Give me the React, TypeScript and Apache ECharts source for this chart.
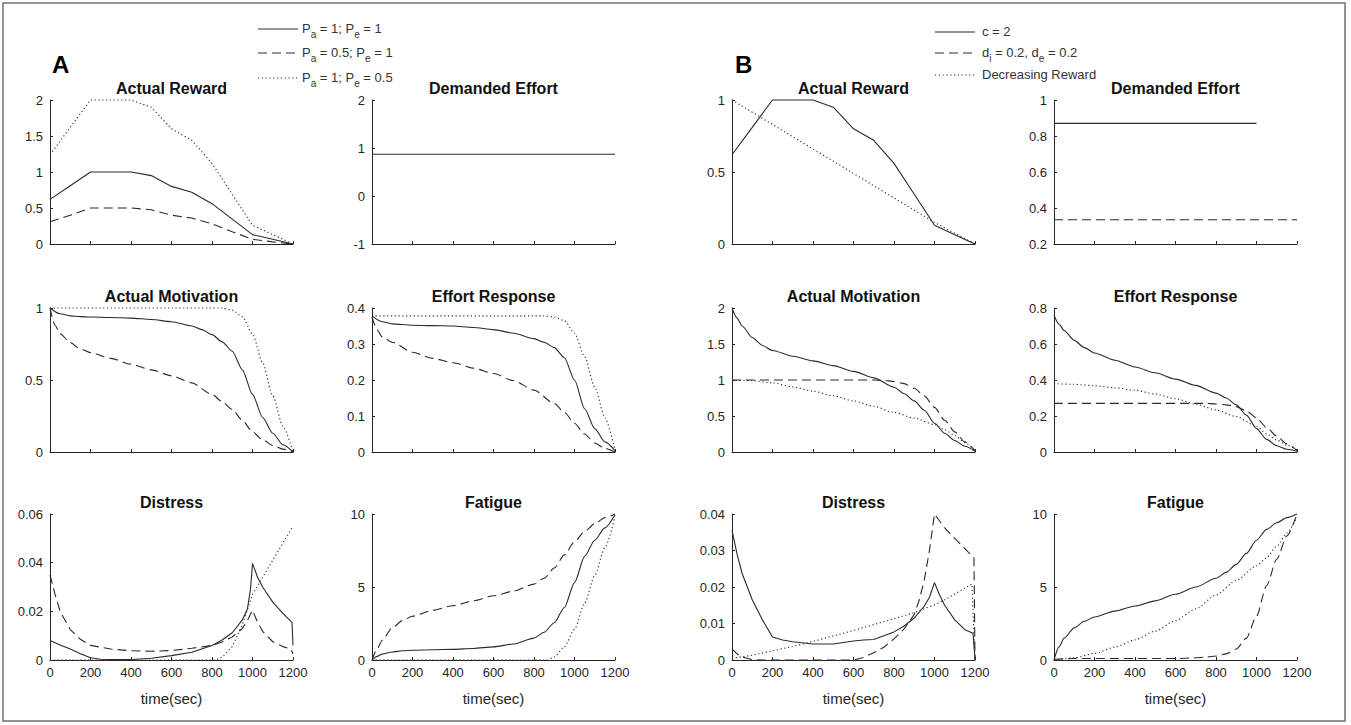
import React, { useEffect, useRef } from 'react';
import * as echarts from 'echarts';

const FONT = '"Liberation Sans", Arial, sans-serif';
const AX = '#262626';
const LINE = '#2a2a2a';

// ---------- data (time in sec, value) ----------
const rewardT = [0, 100, 200, 300, 400, 500, 600, 700, 800, 900, 1000, 1100, 1200];
const rewardA1 = [0.62, 0.81, 1, 1, 1, 0.95, 0.8, 0.72, 0.56, 0.345, 0.13, 0.065, 0];
const rewardA05 = [0.31, 0.4, 0.5, 0.5, 0.5, 0.475, 0.4, 0.36, 0.28, 0.17, 0.065, 0.03, 0];
const rewardA2 = [1.24, 1.62, 2, 2, 2, 1.9, 1.6, 1.44, 1.12, 0.69, 0.26, 0.13, 0];
const rewardBc2 = [0.62, 0.81, 1, 1, 1, 0.95, 0.8, 0.72, 0.56, 0.345, 0.13, 0.065, 0];
const rewardBdecT = [0, 1000, 1200];
const rewardBdec = [1, 0.15, 0];

const demA = [[0, 0.87], [1200, 0.87]];
const demBc2 = [[0, 0.87], [1000, 0.87]];
const demBd = [[0, 0.335], [1200, 0.335]];

const motA1 = [[0, 1], [50, 0.96], [100, 0.945], [150, 0.94], [200, 0.937], [300, 0.934], [400, 0.93], [500, 0.92], [600, 0.905], [700, 0.875], [750, 0.85], [800, 0.815], [850, 0.765], [900, 0.7], [950, 0.57], [1000, 0.4], [1050, 0.24], [1100, 0.13], [1150, 0.05], [1200, 0]];
const motA05 = [[0, 1], [25, 0.88], [50, 0.82], [100, 0.76], [150, 0.715], [200, 0.69], [300, 0.65], [400, 0.61], [500, 0.57], [600, 0.53], [700, 0.48], [800, 0.4], [850, 0.35], [900, 0.295], [950, 0.22], [1000, 0.14], [1050, 0.085], [1100, 0.045], [1150, 0.02], [1200, 0]];
const motA2 = [[0, 1], [850, 1], [900, 0.985], [950, 0.94], [1000, 0.82], [1050, 0.62], [1100, 0.39], [1150, 0.18], [1200, 0]];

const erA1 = [[0, 0.378], [50, 0.362], [100, 0.356], [200, 0.352], [300, 0.351], [400, 0.35], [500, 0.346], [600, 0.34], [700, 0.33], [800, 0.315], [850, 0.305], [900, 0.29], [950, 0.262], [1000, 0.2], [1050, 0.12], [1100, 0.065], [1150, 0.028], [1200, 0.004]];
const erA05 = [[0, 0.375], [25, 0.34], [50, 0.32], [100, 0.305], [200, 0.277], [300, 0.26], [400, 0.248], [500, 0.233], [600, 0.218], [700, 0.198], [800, 0.172], [900, 0.135], [950, 0.11], [1000, 0.08], [1050, 0.05], [1100, 0.025], [1150, 0.01], [1200, 0]];
const erA2 = [[0, 0.378], [850, 0.378], [900, 0.375], [950, 0.365], [1000, 0.33], [1050, 0.265], [1100, 0.18], [1150, 0.095], [1200, 0.005]];

const distA1 = [[0, 0.008], [50, 0.0062], [100, 0.0045], [150, 0.0026], [200, 0.0009], [250, 0.0003], [300, 0.0002], [400, 0.0002], [500, 0.0007], [600, 0.0018], [700, 0.0032], [800, 0.006], [850, 0.0082], [900, 0.0112], [950, 0.0165], [975, 0.021], [990, 0.029], [1000, 0.0397], [1025, 0.034], [1050, 0.03], [1100, 0.0238], [1150, 0.0192], [1195, 0.0155], [1200, 0.006]];
const distA05 = [[0, 0.035], [25, 0.027], [50, 0.02], [100, 0.0125], [150, 0.0085], [200, 0.006], [300, 0.0045], [400, 0.0038], [500, 0.0036], [600, 0.0039], [700, 0.0048], [800, 0.006], [850, 0.0074], [900, 0.0095], [950, 0.013], [975, 0.0162], [1000, 0.0205], [1025, 0.0155], [1050, 0.0118], [1100, 0.0075], [1150, 0.0055], [1190, 0.0045], [1200, 0.0025]];
const distA2 = [[0, 0], [820, 0], [850, 0.0012], [900, 0.0055], [950, 0.0145], [1000, 0.027], [1050, 0.034], [1100, 0.041], [1150, 0.048], [1200, 0.055]];

const fatA1 = [[0, 0], [25, 0.25], [50, 0.4], [100, 0.55], [150, 0.63], [200, 0.67], [300, 0.7], [400, 0.73], [500, 0.79], [600, 0.9], [700, 1.1], [800, 1.5], [850, 1.9], [900, 2.55], [950, 3.6], [1000, 5.3], [1050, 7.1], [1100, 8.2], [1150, 9.05], [1200, 9.95]];
const fatA05 = [[0, 0], [25, 0.75], [50, 1.35], [100, 2.2], [150, 2.7], [200, 3.0], [300, 3.4], [400, 3.72], [500, 4.05], [600, 4.4], [700, 4.72], [800, 5.2], [850, 5.6], [900, 6.3], [950, 7.2], [1000, 8.1], [1050, 8.8], [1100, 9.35], [1150, 9.75], [1200, 10]];
const fatA2 = [[0, 0], [860, 0], [900, 0.2], [950, 0.9], [1000, 2.1], [1050, 3.9], [1100, 5.8], [1150, 7.7], [1200, 9.8]];

const motBc2 = [[0, 2], [25, 1.86], [50, 1.75], [100, 1.59], [150, 1.48], [200, 1.41], [300, 1.33], [400, 1.265], [500, 1.2], [600, 1.12], [700, 1.03], [800, 0.9], [850, 0.81], [900, 0.71], [950, 0.58], [1000, 0.4], [1050, 0.26], [1100, 0.16], [1150, 0.08], [1200, 0.01]];
const motBd = [[0, 1], [700, 1], [750, 0.995], [800, 0.98], [850, 0.95], [900, 0.885], [950, 0.78], [1000, 0.62], [1050, 0.44], [1100, 0.28], [1150, 0.14], [1200, 0.02]];
const motBdec = [[0, 1], [100, 0.99], [200, 0.96], [300, 0.905], [400, 0.845], [500, 0.78], [600, 0.71], [700, 0.635], [800, 0.55], [900, 0.47], [1000, 0.38], [1050, 0.31], [1100, 0.23], [1150, 0.13], [1200, 0.02]];

const erBc2 = [[0, 0.76], [25, 0.71], [50, 0.675], [100, 0.62], [150, 0.58], [200, 0.55], [300, 0.51], [400, 0.472], [500, 0.44], [600, 0.405], [700, 0.37], [800, 0.327], [850, 0.3], [900, 0.262], [950, 0.205], [1000, 0.13], [1050, 0.07], [1100, 0.035], [1150, 0.015], [1200, 0.004]];
const erBd = [[0, 0.27], [750, 0.27], [800, 0.267], [850, 0.262], [900, 0.252], [950, 0.228], [1000, 0.19], [1050, 0.135], [1100, 0.088], [1150, 0.045], [1200, 0.008]];
const erBdec = [[0, 0.38], [100, 0.376], [200, 0.368], [300, 0.357], [400, 0.343], [500, 0.322], [600, 0.296], [700, 0.266], [800, 0.234], [900, 0.197], [1000, 0.143], [1050, 0.1], [1100, 0.066], [1150, 0.038], [1200, 0.01]];

const distBc2 = [[0, 0.0355], [25, 0.029], [50, 0.0237], [100, 0.0165], [150, 0.011], [200, 0.0063], [250, 0.0055], [300, 0.005], [400, 0.0044], [500, 0.0044], [600, 0.0052], [650, 0.0055], [700, 0.0056], [800, 0.0077], [850, 0.0093], [900, 0.0115], [950, 0.0148], [975, 0.0172], [1000, 0.0212], [1025, 0.0178], [1050, 0.015], [1100, 0.011], [1150, 0.0083], [1190, 0.0073], [1200, 0.0005]];
const distBd = [[0, 0.003], [25, 0.0017], [50, 0.0008], [100, 0.0001], [150, 0], [600, 0], [650, 0.0007], [700, 0.002], [750, 0.0035], [800, 0.0058], [850, 0.0085], [900, 0.0125], [925, 0.0165], [950, 0.022], [975, 0.03], [1000, 0.04], [1050, 0.0362], [1100, 0.0333], [1150, 0.0305], [1195, 0.028], [1200, 0]];
const distBdec = [[0, 0.0005], [50, 0.0009], [100, 0.0013], [200, 0.0025], [300, 0.0037], [400, 0.0051], [500, 0.0066], [600, 0.0081], [700, 0.0097], [800, 0.0113], [900, 0.013], [1000, 0.0151], [1050, 0.0165], [1100, 0.0181], [1150, 0.0197], [1185, 0.0208], [1200, 0]];

const fatBc2 = [[0, 0], [25, 0.9], [50, 1.5], [100, 2.2], [150, 2.65], [200, 2.95], [300, 3.35], [400, 3.7], [500, 4.05], [600, 4.5], [700, 5.0], [800, 5.6], [850, 6.0], [900, 6.55], [950, 7.3], [1000, 8.2], [1050, 8.95], [1100, 9.4], [1150, 9.75], [1200, 10]];
const fatBd = [[0, 0.05], [100, 0.1], [600, 0.1], [700, 0.15], [750, 0.2], [800, 0.27], [850, 0.42], [900, 0.75], [950, 1.5], [1000, 3.0], [1050, 5.1], [1100, 6.9], [1150, 8.5], [1200, 10]];
const fatBdec = [[0, 0], [100, 0.15], [200, 0.45], [300, 0.88], [400, 1.38], [500, 1.98], [600, 2.7], [700, 3.5], [800, 4.45], [900, 5.45], [1000, 6.45], [1050, 7.0], [1100, 7.8], [1150, 8.7], [1200, 9.8]];

const zip = (t: number[], v: number[]) => t.map((x, i) => [x, v[i]]);

const TITLES = ['Actual Reward', 'Demanded Effort', 'Actual Motivation', 'Effort Response', 'Distress', 'Fatigue'];
const LEGEND_A = ['{m|P}{s|a}{m| = 1; P}{s|e}{m| = 1}', '{m|P}{s|a}{m| = 0.5; P}{s|e}{m| = 1}', '{m|P}{s|a}{m| = 1; P}{s|e}{m| = 0.5}'];
const LEGEND_B = ['{m|c = 2}', '{m|d}{s|i}{m| = 0.2, d}{s|e}{m| = 0.2}', '{m|Decreasing Reward}'];

type LS = 'solid' | 'dashed' | 'dotted';
interface Panel { title: string; col: number; row: number; y: [number, number, number]; smooth: boolean; lines: [number[][], LS][] }

const PANELS: Panel[] = [
  { title: TITLES[0], col: 0, row: 0, y: [0, 2, 0.5], smooth: false, lines: [[zip(rewardT, rewardA1), 'solid'], [zip(rewardT, rewardA05), 'dashed'], [zip(rewardT, rewardA2), 'dotted']] },
  { title: TITLES[1], col: 1, row: 0, y: [-1, 2, 1], smooth: false, lines: [[demA, 'solid']] },
  { title: TITLES[2], col: 0, row: 1, y: [0, 1, 0.5], smooth: true, lines: [[motA1, 'solid'], [motA05, 'dashed'], [motA2, 'dotted']] },
  { title: TITLES[3], col: 1, row: 1, y: [0, 0.4, 0.1], smooth: true, lines: [[erA1, 'solid'], [erA05, 'dashed'], [erA2, 'dotted']] },
  { title: TITLES[4], col: 0, row: 2, y: [0, 0.06, 0.02], smooth: false, lines: [[distA1, 'solid'], [distA05, 'dashed'], [distA2, 'dotted']] },
  { title: TITLES[5], col: 1, row: 2, y: [0, 10, 5], smooth: true, lines: [[fatA1, 'solid'], [fatA05, 'dashed'], [fatA2, 'dotted']] },
  { title: TITLES[0], col: 2, row: 0, y: [0, 1, 0.5], smooth: false, lines: [[zip(rewardT, rewardBc2), 'solid'], [zip(rewardBdecT, rewardBdec), 'dotted']] },
  { title: TITLES[1], col: 3, row: 0, y: [0.2, 1, 0.2], smooth: false, lines: [[demBc2, 'solid'], [demBd, 'dashed']] },
  { title: TITLES[2], col: 2, row: 1, y: [0, 2, 0.5], smooth: true, lines: [[motBc2, 'solid'], [motBd, 'dashed'], [motBdec, 'dotted']] },
  { title: TITLES[3], col: 3, row: 1, y: [0, 0.8, 0.2], smooth: true, lines: [[erBc2, 'solid'], [erBd, 'dashed'], [erBdec, 'dotted']] },
  { title: TITLES[4], col: 2, row: 2, y: [0, 0.04, 0.01], smooth: false, lines: [[distBc2, 'solid'], [distBd, 'dashed'], [distBdec, 'dotted']] },
  { title: TITLES[5], col: 3, row: 2, y: [0, 10, 5], smooth: true, lines: [[fatBc2, 'solid'], [fatBd, 'dashed'], [fatBdec, 'dotted']] },
];

const COLS = [50, 372, 732, 1054];
const ROWS = [100, 308, 514];
const HEIGHTS = [144, 144, 146];
const W = 243;

const DASH: Record<LS, any> = { solid: 'solid', dashed: [9, 5], dotted: [1.2, 2.6] };
const fmt = (v: number) => String(parseFloat(v.toFixed(4)));

function buildOption() {
  const grid: any[] = [], xAxis: any[] = [], yAxis: any[] = [], series: any[] = [];
  const graphic: any[] = [];
  PANELS.forEach((p, i) => {
    const left = COLS[p.col], top = ROWS[p.row], h = HEIGHTS[p.row];
    grid.push({ left, top, width: W, height: h, containLabel: false, outerBoundsMode: 'none' });
    const bottom = p.row === 2;
    xAxis.push({
      gridIndex: i, type: 'value', min: 0, max: 1200, interval: 200,
      axisLine: { show: true, onZero: false, lineStyle: { color: AX, width: 1 } },
      axisTick: { show: true, inside: true, length: 3, lineStyle: { color: AX } },
      axisLabel: { show: bottom, color: AX, fontSize: 13, fontFamily: FONT, margin: 6, formatter: fmt },
      splitLine: { show: false },
      name: bottom ? 'time(sec)' : '', nameLocation: 'middle', nameGap: 31,
      nameTextStyle: { color: AX, fontSize: 15, fontFamily: FONT },
    });
    yAxis.push({
      gridIndex: i, type: 'value', min: p.y[0], max: p.y[1], interval: p.y[2],
      axisLine: { show: true, onZero: false, lineStyle: { color: AX, width: 1 } },
      axisTick: { show: true, inside: true, length: 3, lineStyle: { color: AX } },
      axisLabel: { color: AX, fontSize: 13, fontFamily: FONT, margin: 7, formatter: fmt },
      splitLine: { show: false },
    });
    p.lines.forEach(([data, ls]) => {
      series.push({
        type: 'line', xAxisIndex: i, yAxisIndex: i, data, showSymbol: false, symbol: 'none',
        smooth: p.smooth ? 0.25 : false, smoothMonotone: 'x', clip: false, silent: true,
        lineStyle: { color: LINE, width: 1.1, type: DASH[ls] },
      });
    });
    graphic.push({
      type: 'text', x: left + W / 2, y: top - 12,
      style: { text: p.title, fill: '#111', font: `bold 16px ${FONT}`, textAlign: 'center', textVerticalAlign: 'middle' },
    });
  });

  // outer border
  graphic.push({ type: 'rect', shape: { x: 3, y: 3, width: 1342, height: 718 }, style: { fill: 'none', stroke: '#707070', lineWidth: 1.5 } });
  // panel letters
  graphic.push({ type: 'text', x: 52, y: 64, style: { text: 'A', fill: '#000', font: `bold 24px ${FONT}`, textVerticalAlign: 'middle' } });
  graphic.push({ type: 'text', x: 735, y: 64, style: { text: 'B', fill: '#000', font: `bold 24px ${FONT}`, textVerticalAlign: 'middle' } });

  const rich = {
    m: { fontSize: 13, fontFamily: FONT, fill: '#333', verticalAlign: 'top', lineHeight: 15 },
    s: { fontSize: 10, fontFamily: FONT, fill: '#333', verticalAlign: 'top', padding: [7, 0, 0, 0], lineHeight: 12 },
  };
  const legend = (x1: number, x2: number, tx: number, ys: number[], labels: string[]) => {
    const styles: LS[] = ['solid', 'dashed', 'dotted'];
    ys.forEach((y, k) => {
      const d = DASH[styles[k]];
      graphic.push({ type: 'line', shape: { x1, y1: y, x2, y2: y }, style: { stroke: LINE, lineWidth: 1.1, lineDash: d === 'solid' ? null : d } });
      graphic.push({ type: 'text', x: tx, y: y - 7, style: { text: labels[k], rich, textVerticalAlign: 'top' } });
    });
  };
  legend(258, 298, 302, [29, 53, 78], LEGEND_A);
  legend(935, 975, 982, [32, 53, 75], LEGEND_B);

  return { animation: false, backgroundColor: '#fff', grid, xAxis, yAxis, series, graphic };
}

export default function App() {
  const ref = useRef<HTMLDivElement>(null);
  useEffect(() => {
    const chart = echarts.init(ref.current!, undefined, { renderer: 'svg' });
    chart.setOption(buildOption() as any);
    return () => chart.dispose();
  }, []);
  return <div ref={ref} style={{ position: 'fixed', left: 0, top: 0, width: 1351, height: 725, background: '#fff' }} />;
}
